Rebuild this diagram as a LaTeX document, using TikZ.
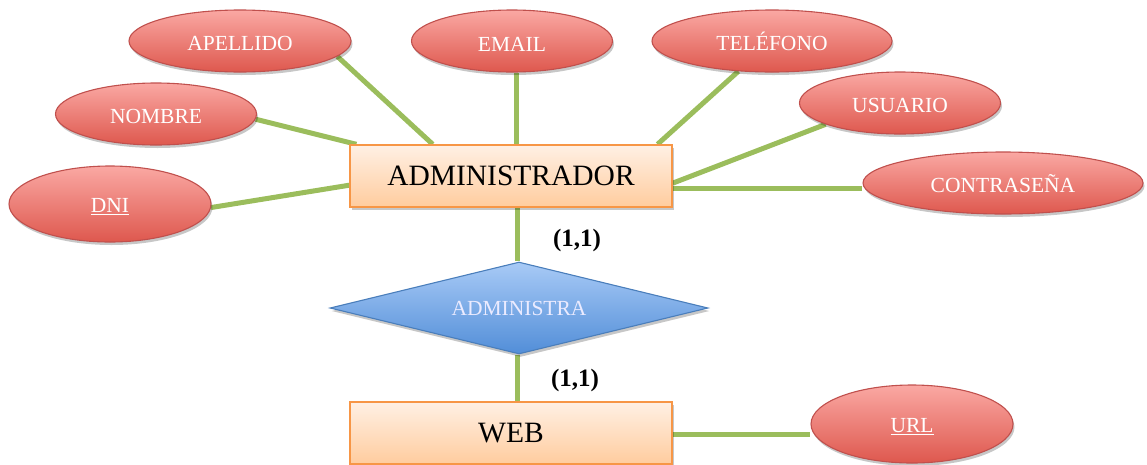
\documentclass[tikz,border=0pt]{standalone}
\usepackage{fontspec}
\setmainfont{Liberation Serif}
\usetikzlibrary{shapes.geometric,shadows,calc,backgrounds}

\definecolor{linkgreen}{RGB}{155,189,92}
\definecolor{attrtop}{RGB}{250,168,163}
\definecolor{attrbot}{RGB}{222,88,78}
\definecolor{attredge}{RGB}{192,80,77}
\definecolor{enttop}{RGB}{255,240,228}
\definecolor{entbot}{RGB}{255,204,158}
\definecolor{entedge}{RGB}{247,150,70}
\definecolor{reltop}{RGB}{168,202,246}
\definecolor{relbot}{RGB}{82,142,216}
\definecolor{reledge}{RGB}{74,126,187}

\tikzset{
  softshadow/.style={drop shadow={shadow xshift=1.5pt, shadow yshift=-3pt, opacity=0.22, fill=black}},
  attr/.style={ellipse, draw=attredge, line width=1.1pt, top color=attrtop, bottom color=attrbot,
    text=white, inner sep=0pt, text height=20pt, font=\fontsize{21.5}{24}\selectfont, softshadow},
  entity/.style={rectangle, draw=entedge, line width=1.4pt, top color=enttop, bottom color=entbot,
    minimum width=322pt, minimum height=62pt, inner sep=0pt, font=\fontsize{29.5}{32}\selectfont, softshadow},
  relation/.style={diamond, draw=reledge, line width=1.1pt, top color=reltop, bottom color=relbot,
    text=white!92!blue, inner sep=0pt, minimum width=378pt, minimum height=92pt, aspect=4.1,
    font=\fontsize{21.5}{24}\selectfont, softshadow},
  link/.style={linkgreen, line width=5pt},
  card/.style={font=\fontsize{25}{28}\selectfont\bfseries, inner sep=0pt}
}

\begin{document}
\begin{tikzpicture}[x=1pt,y=1pt]
  \useasboundingbox (0,0) rectangle (1147,-464);
  \clip (0,0) rectangle (1147,-464);

  % entities and relationship
  \node[entity] (admin) at (511,-176) {ADMINISTRADOR};
  \node[entity] (web) at (511,-433) {WEB};
  \node[relation] (rel) at (519,-308) {ADMINISTRA};

  % attributes of ADMINISTRADOR
  \node[attr, minimum width=222pt, minimum height=62pt] (apellido) at (240,-41) {APELLIDO};
  \node[attr, minimum width=201pt, minimum height=62pt] (email) at (512,-41) {EMAIL};
  \node[attr, minimum width=240pt, minimum height=62pt] (telefono) at (772,-41) {TELÉFONO};
  \node[attr, minimum width=201pt, minimum height=62pt] (nombre) at (156,-114) {NOMBRE};
  \node[attr, minimum width=201pt, minimum height=62pt] (usuario) at (900,-103) {USUARIO};
  \node[attr, minimum width=202pt, minimum height=76pt] (dni) at (110,-204) {\underline{DNI}};
  \node[attr, minimum width=280pt, minimum height=62pt] (contr) at (1003,-183) {CONTRASEÑA};

  % attribute of WEB
  \node[attr, minimum width=202pt, minimum height=78pt] (url) at (912,-424) {\underline{URL}};

  % cardinalities
  \node[card] (c1) at (577,-240) {(1,1)};
  \node[card] (c2) at (575,-380) {(1,1)};

  % connectors, kept under the shapes
  \begin{scope}[on background layer]
    \draw[link] (apellido.-9) -- ($(admin.north west)!0.258!(admin.north east)$);
    \draw[link] (email.south -| 516,0) -- (admin.north -| 516,0);
    \draw[link] (telefono.-138) -- ($(admin.north west)!0.953!(admin.north east)$);
    \draw[link] (nombre.-3) -- ($(admin.north west)!0.022!(admin.north east)$);
    \draw[link] (dni.-2) -- ($(admin.north west)!0.645!(admin.south west)$);
    \draw[link] (usuario.-164) -- ($(admin.north east)!0.613!(admin.south east)$);
    \coordinate (cpt) at ($(admin.north east)!0.69!(admin.south east)$);
    \draw[link] (cpt) -- (cpt -| contr.west);
    \draw[link] (admin.south -| 517,0) -- (rel.north -| 517,0);
    \draw[link] (rel.south -| 517,0) -- (web.north -| 517,0);
    \coordinate (wpt) at ($(web.north east)!0.53!(web.south east)$);
    \draw[link] (wpt) -- (wpt -| url.west);
  \end{scope}
\end{tikzpicture}
\end{document}
